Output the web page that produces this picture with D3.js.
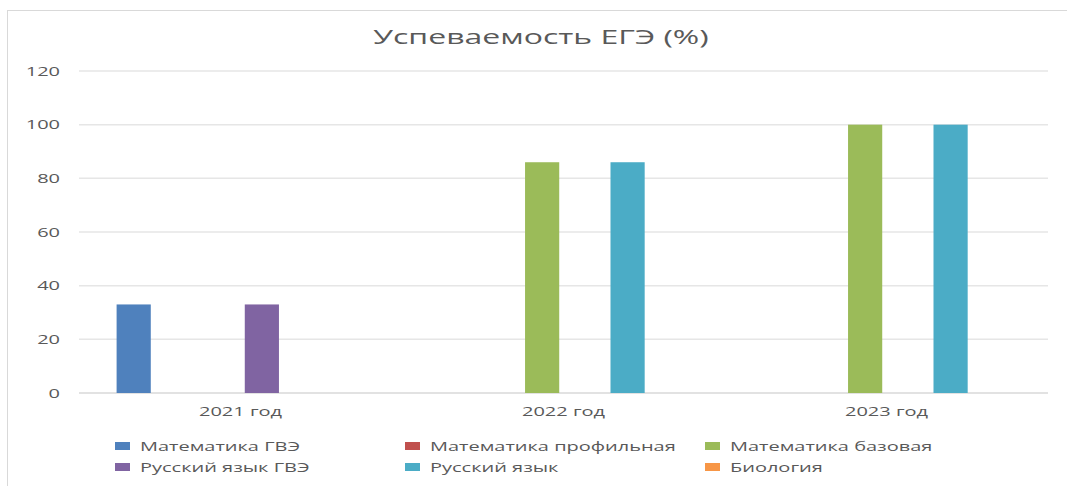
<!DOCTYPE html>
<html>
<head>
<meta charset="utf-8">
<script src="https://cdn.jsdelivr.net/npm/d3@7"></script>
<style>
  body { margin: 0; background: #fff; }
  text { font-family: "Open Sans", "Noto Sans", sans-serif; fill: #595959; }
</style>
</head>
<body>
<svg width="1067" height="486"></svg>
<script>
const categories = ['2021 год', '2022 год', '2023 год']
const seriesNames = ['Математика ГВЭ', 'Математика профильная', 'Математика базовая',
    'Русский язык ГВЭ', 'Русский язык', 'Биология']
const colors = ['#4f81bd', '#c0504d', '#9bbb59', '#8064a2', '#4bacc6', '#f79646']
// one row per series, one value per year (0 = no bar)
const values = [
    [33, 0, 0],
    [0, 0, 0],
    [0, 86, 100],
    [33, 0, 0],
    [0, 86, 100],
    [0, 0, 0]
]
const yTicks = [0, 20, 40, 60, 80, 100, 120]

const svg = d3.select('svg')
const sx = 1.6 // the picture is stretched sideways

const plotLeft = 79, plotRight = 1048, plotTop = 71, plotBottom = 393

// text stretched horizontally
function stretchText(parent, x, y, str, size, anchor) {
    const g = parent.append('g').attr('transform', `translate(${x},${y}) scale(${sx},1)`)
    g.append('text')
        .attr('font-size', size)
        .attr('text-anchor', anchor)
        .text(str)
    return g
}

svg.append('rect')
    .attr('x', 7.5).attr('y', 10.5)
    .attr('width', 1100).attr('height', 500)
    .attr('fill', 'none')
    .attr('stroke', '#d9d9d9')

const x0 = d3.scaleBand().domain(categories).range([plotLeft, plotRight])
const x1 = d3.scaleBand().domain(seriesNames).range([0, x0.bandwidth()])
    .paddingInner(0.2).paddingOuter(0.88)
const y = d3.scaleLinear().domain([0, 120]).range([plotBottom, plotTop])

// gridlines
svg.append('g').selectAll('line').data(yTicks).join('line')
    .attr('x1', plotLeft).attr('x2', plotRight)
    .attr('y1', d => y(d)).attr('y2', d => y(d))
    .attr('stroke', d => d === 0 ? '#d9d9d9' : '#e6e6e6')
    .attr('stroke-width', 1.5)

yTicks.forEach(d => stretchText(svg, 60, y(d) + 4.5, d, 12.5, 'end'))

// bars
const groups = svg.append('g').selectAll('g').data(categories).join('g')
    .attr('transform', d => `translate(${x0(d)},0)`)

groups.selectAll('rect')
    .data((c, ci) => seriesNames.map((s, si) => ({ s, si, v: values[si][ci] })).filter(d => d.v > 0))
    .join('rect')
    .attr('x', d => x1(d.s))
    .attr('width', x1.bandwidth())
    .attr('y', d => y(d.v))
    .attr('height', d => plotBottom - y(d.v))
    .attr('fill', d => colors[d.si])

categories.forEach(c => stretchText(svg, x0(c) + x0.bandwidth() / 2, 415.5, c, 12.5, 'middle'))

// title
stretchText(svg, 541, 44, 'Успеваемость ЕГЭ (%)', 20, 'middle')

// legend, three columns by two rows
const legendX = [115, 405, 705]
const legendY = [446, 467]
seriesNames.forEach((s, i) => {
    const lx = legendX[i % 3], ly = legendY[Math.floor(i / 3)]
    svg.append('rect')
        .attr('x', lx).attr('y', ly - 4)
        .attr('width', 15).attr('height', 8)
        .attr('fill', colors[i])
    stretchText(svg, lx + 25, ly + 4.5, s, 12.5, 'start')
})
</script>
</body>
</html>
